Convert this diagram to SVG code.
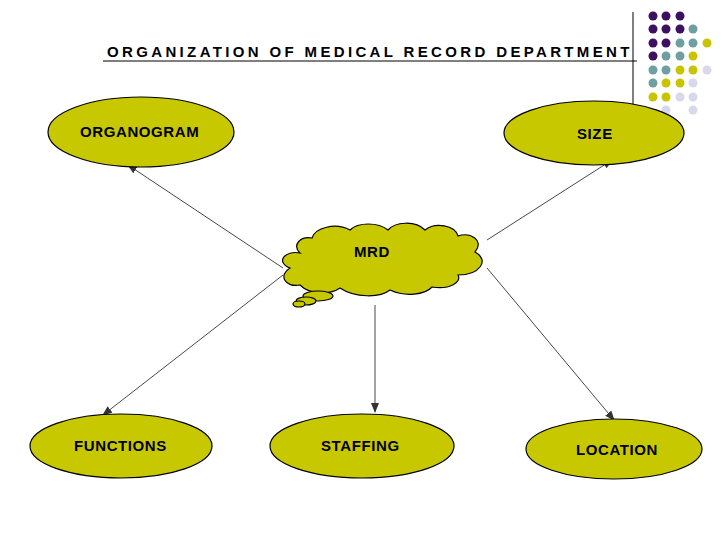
<svg xmlns="http://www.w3.org/2000/svg" width="728" height="546" viewBox="0 0 728 546">
<style>
.n{fill:#c8c800;stroke:#000;stroke-width:1.2}
.t{font-family:"Liberation Sans",Arial,sans-serif;font-weight:bold;font-size:15px;letter-spacing:0.6px;fill:#000}
.c line{stroke:#333;stroke-width:0.9;marker-end:url(#a)}
.P{fill:#3d1060}.T{fill:#6f9fa0}.Y{fill:#c8c400}.L{fill:#d8d8ec}
</style>
<defs><marker id="a" markerWidth="10" markerHeight="8" refX="9" refY="4" orient="auto" markerUnits="userSpaceOnUse"><path d="M0,0 L10,4 L0,8 z" fill="#333"/></marker></defs>
<rect width="728" height="546" fill="#fff"/>
<text class="t" x="107" y="57" font-size="16" textLength="523" lengthAdjust="spacing">ORGANIZATION OF MEDICAL RECORD DEPARTMENT</text>
<line x1="103" y1="61" x2="637" y2="61" stroke="#000" stroke-width="1"/>
<line x1="633" y1="12" x2="633" y2="106" stroke="#000" stroke-width="1"/>
<g id="dots">
<circle class="P" cx="653" cy="16" r="4.5"/><circle class="P" cx="666" cy="16" r="4.5"/><circle class="P" cx="680" cy="16" r="4.5"/>
<circle class="P" cx="653" cy="29" r="4.5"/><circle class="P" cx="666" cy="29" r="4.5"/><circle class="P" cx="680" cy="29" r="4.5"/><circle class="T" cx="693" cy="29" r="4.5"/>
<circle class="P" cx="653" cy="43" r="4.5"/><circle class="P" cx="666" cy="43" r="4.5"/><circle class="T" cx="680" cy="43" r="4.5"/><circle class="T" cx="693" cy="43" r="4.5"/><circle class="Y" cx="707" cy="43" r="4.5"/>
<circle class="P" cx="653" cy="56" r="4.5"/><circle class="T" cx="666" cy="56" r="4.5"/><circle class="T" cx="680" cy="56" r="4.5"/><circle class="Y" cx="693" cy="56" r="4.5"/>
<circle class="T" cx="653" cy="70" r="4.5"/><circle class="T" cx="666" cy="70" r="4.5"/><circle class="Y" cx="680" cy="70" r="4.5"/><circle class="Y" cx="693" cy="70" r="4.5"/><circle class="L" cx="707" cy="70" r="4.5"/>
<circle class="T" cx="653" cy="83" r="4.5"/><circle class="Y" cx="666" cy="83" r="4.5"/><circle class="Y" cx="680" cy="83" r="4.5"/><circle class="L" cx="693" cy="83" r="4.5"/>
<circle class="Y" cx="653" cy="97" r="4.5"/><circle class="Y" cx="666" cy="97" r="4.5"/><circle class="L" cx="680" cy="97" r="4.5"/><circle class="L" cx="693" cy="97" r="4.5"/>
<circle class="L" cx="666" cy="110" r="4.5"/><circle class="L" cx="693" cy="110" r="4.5"/>
</g>
<g class="c" id="connectors">
<line x1="283" y1="268" x2="128" y2="165"/>
<line x1="487" y1="240" x2="612" y2="160"/>
<line x1="283" y1="275" x2="103" y2="415"/>
<line x1="375" y1="305" x2="375" y2="412"/>
<line x1="487" y1="268" x2="614" y2="420"/>
</g>
<g id="organogram"><ellipse class="n" cx="141" cy="132" rx="93" ry="35"/><text class="t" x="80" y="137">ORGANOGRAM</text></g>
<g id="size"><ellipse class="n" cx="594" cy="133" rx="90" ry="32"/><text class="t" x="577" y="139">SIZE</text></g>
<g id="functions"><ellipse class="n" cx="121" cy="446" rx="91" ry="32"/><text class="t" x="74" y="451">FUNCTIONS</text></g>
<g id="staffing"><ellipse class="n" cx="362" cy="446" rx="92" ry="32"/><text class="t" x="321" y="451">STAFFING</text></g>
<g id="location"><ellipse class="n" cx="614" cy="449" rx="88" ry="30"/><text class="t" x="576" y="455">LOCATION</text></g>
<g id="mrd">
<path class="n" d="M300,253 C285,250 275,262 290,268 C278,275 285,288 300,285 C310,295 330,295 340,288 C355,298 380,298 390,290 C405,297 425,295 432,287 C450,290 462,282 458,275 C480,275 490,260 475,252 C485,240 470,232 458,236 C455,225 435,222 425,230 C415,220 395,222 388,230 C378,222 358,222 350,230 C335,222 315,228 312,238 C300,236 292,245 300,253 Z"/>
<ellipse class="n" cx="318" cy="296" rx="15" ry="5"/>
<ellipse class="n" cx="306" cy="301" rx="10" ry="4"/>
<ellipse class="n" cx="299" cy="304" rx="6" ry="3"/>
<text class="t" x="354" y="257">MRD</text>
</g>
</svg>
